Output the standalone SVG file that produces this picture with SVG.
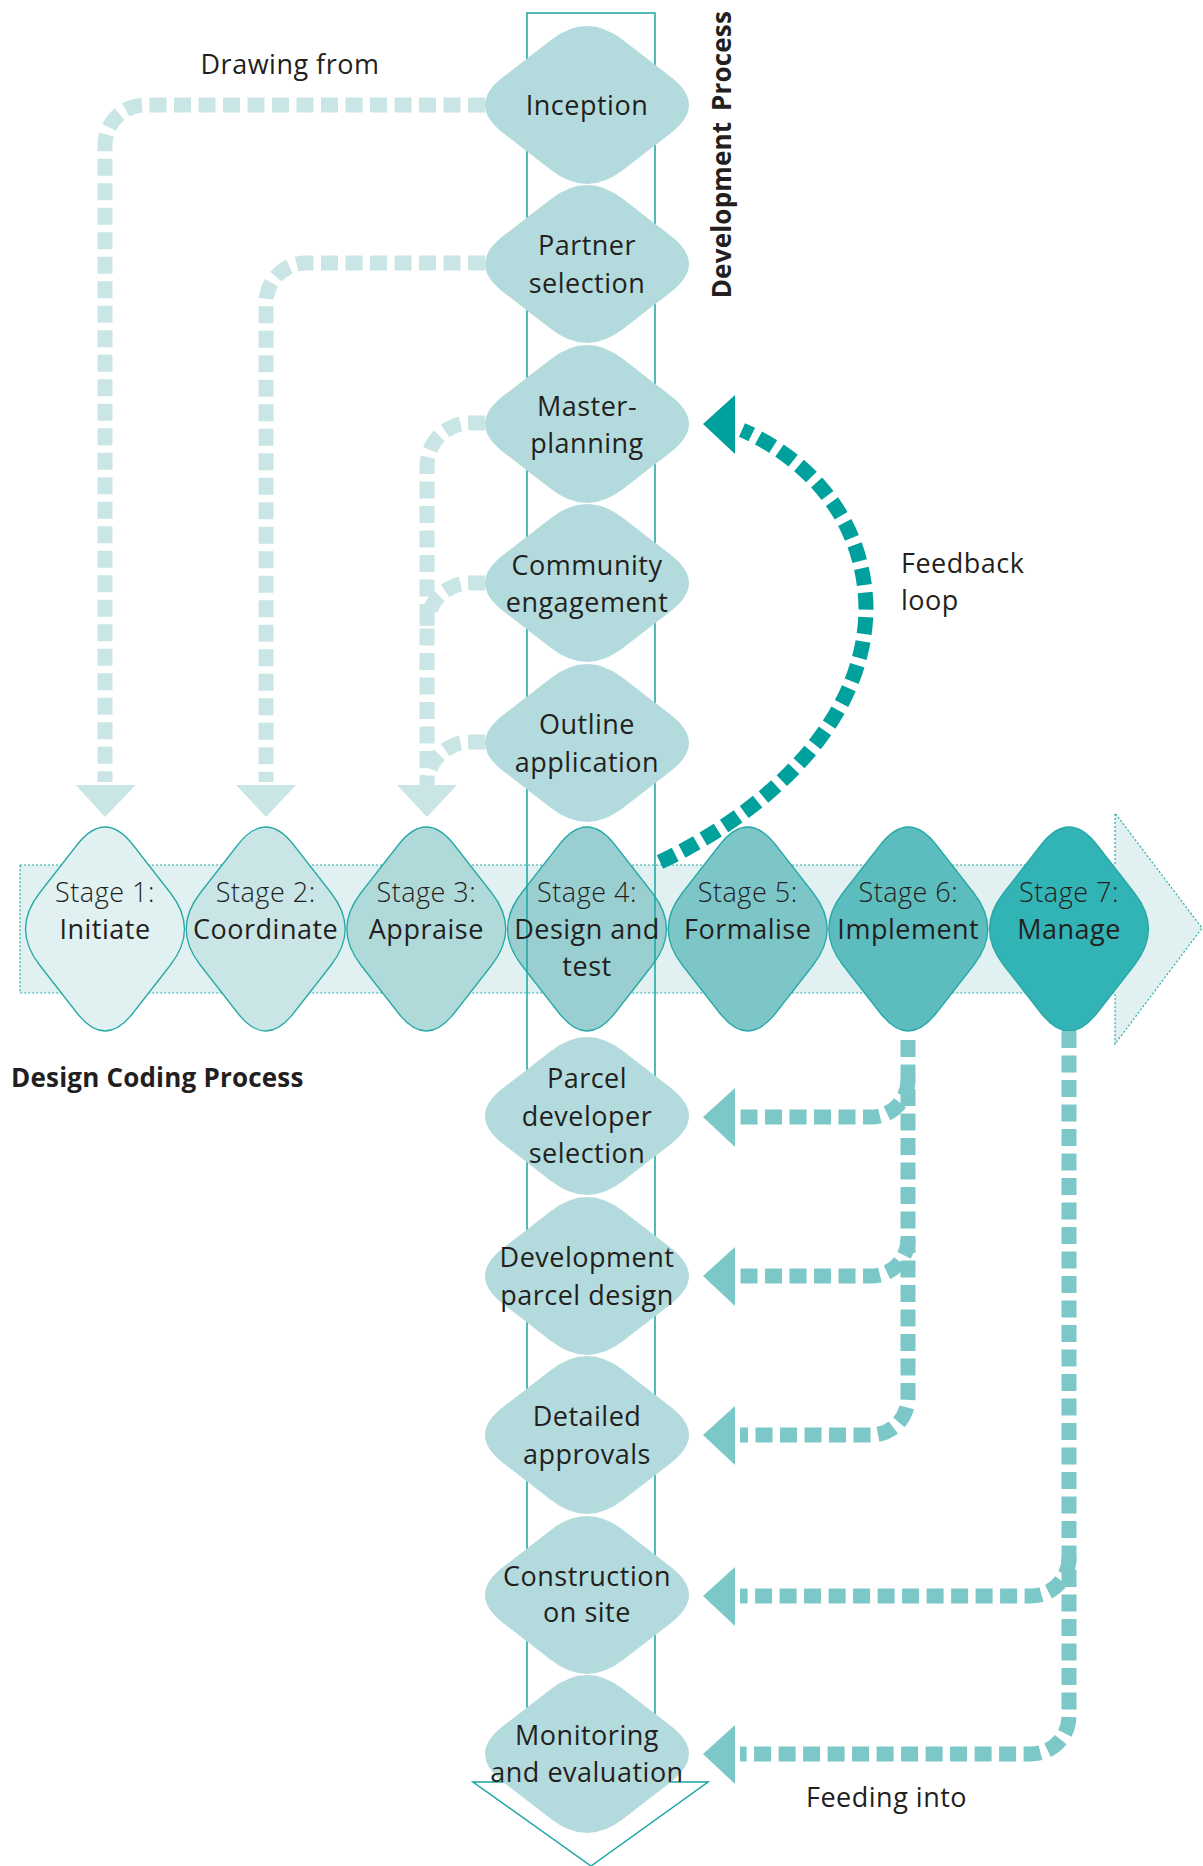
<svg xmlns="http://www.w3.org/2000/svg" xmlns:xlink="http://www.w3.org/1999/xlink" width="1203" height="1866" viewBox="0 0 1203 1866">
<style>
text{font-family:"Open Sans","Noto Sans","Liberation Sans",sans-serif;fill:#231f20;font-size:27px;letter-spacing:0.5px}
.c{text-anchor:middle}
.l{font-weight:300}
.b{font-weight:bold;font-size:26px;letter-spacing:0.2px}
.stage{stroke:#26a9a6;stroke-width:1.3}
.dev{fill:#b3dbdd}
.dash{fill:none;stroke-width:15;stroke-dasharray:17 7.5}
.light{stroke:#c9e5e6}
.mid{stroke:#7cc7c8}
.dark{stroke:#00a19c}
</style>
<defs>
<path id="devShape" d="M36,-65.1 L84,-27.9 Q120,0 84,27.9 L36,65.1 Q0,93 -36,65.1 L-84,27.9 Q-120,0 -84,-27.9 L-36,-65.1 Q0,-93 36,-65.1 Z"/>
<path id="stageShape" d="M28.05,-84 L65.45,-36 Q93.5,0 65.45,36 L28.05,84 Q0,120 -28.05,84 L-65.45,36 Q-93.5,0 -65.45,-36 L-28.05,-84 Q0,-120 28.05,-84 Z"/>
</defs>

<!-- band arrow -->
<path id="band" d="M20,865 H1115 V813 L1202,928 L1115,1044 V993 H20 Z" fill="#e1f0f0" stroke="#2aa9a7" stroke-width="1.2" stroke-dasharray="2 2"/>

<!-- stage nodes -->
<g id="stage1" transform="translate(105,929)"><use href="#stageShape" class="stage" fill="#e1f0f0"/></g>
<g id="stage2" transform="translate(265.7,929)"><use href="#stageShape" class="stage" fill="#c9e5e6"/></g>
<g id="stage3" transform="translate(426.3,929)"><use href="#stageShape" class="stage" fill="#b0dada"/></g>
<g id="stage4" transform="translate(587,929)"><use href="#stageShape" class="stage" fill="#99cfd0"/></g>
<g id="stage5" transform="translate(747.7,929)"><use href="#stageShape" class="stage" fill="#7dc6c8"/></g>
<g id="stage6" transform="translate(908.3,929)"><use href="#stageShape" class="stage" fill="#5dbcbd"/></g>
<g id="stage7" transform="translate(1069,929)"><use href="#stageShape" class="stage" fill="#32b3b5"/></g>

<!-- development process column outline -->
<path id="devColumn" d="M527,13 H655 V1782 H708 L591,1866 L473,1782 H527 Z" fill="none" stroke="#1aa5a2" stroke-width="1.5"/>

<!-- connectors -->
<g id="connectors">
  <path class="dash light" d="M485,105 H145 A40,40 0 0 0 105,145 V782"/>
  <path class="dash light" d="M485,263 H306 A40,40 0 0 0 266,303 V782"/>
  <path class="dash light" d="M485,423 H470 A43,43 0 0 0 427,466 V782"/>
  <path class="dash light" d="M485,583 H470 A43,43 0 0 0 427,626"/>
  <path class="dash light" d="M485,742 H470 A43,43 0 0 0 427,785"/>
  <polygon fill="#c9e5e6" points="75.7,785 135.7,785 105,817"/>
  <polygon fill="#c9e5e6" points="236,785 296,785 266,817"/>
  <polygon fill="#c9e5e6" points="397,785 457,785 427,817"/>

  <path class="dash dark" d="M660,862 C770,810 866,720 866,607 C864,520 810,460 742,430"/>
  <polygon fill="#00a19c" points="703,424 735,395 735,454"/>

  <path class="dash mid" d="M908,1040 V1398 A37,37 0 0 1 871,1435 H740"/>
  <path class="dash mid" d="M908,1080 A37,37 0 0 1 871,1117 H740"/>
  <path class="dash mid" d="M908,1239 A37,37 0 0 1 871,1276 H740"/>
  <path class="dash mid" d="M1069,1031 V1716 A38,38 0 0 1 1031,1754 H740"/>
  <path class="dash mid" d="M1069,1558 A38,38 0 0 1 1031,1596 H740"/>
  <polygon fill="#7cc7c8" points="703,1117 735,1088 735,1147"/>
  <polygon fill="#7cc7c8" points="703,1276 735,1247 735,1306"/>
  <polygon fill="#7cc7c8" points="703,1435 735,1406 735,1465"/>
  <polygon fill="#7cc7c8" points="703,1596 735,1567 735,1626"/>
  <polygon fill="#7cc7c8" points="703,1754 735,1725 735,1784"/>
</g>

<!-- stage labels -->
<g id="stage-labels">
  <text class="c l" x="105" y="902">Stage 1:</text><text class="c" x="105" y="939">Initiate</text>
  <text class="c l" x="265.7" y="902">Stage 2:</text><text class="c" x="265.7" y="939">Coordinate</text>
  <text class="c l" x="426.3" y="902">Stage 3:</text><text class="c" x="426.3" y="939">Appraise</text>
  <text class="c l" x="587" y="902">Stage 4:</text><text class="c" x="587" y="939">Design and</text><text class="c" x="587" y="976">test</text>
  <text class="c l" x="747.7" y="902">Stage 5:</text><text class="c" x="747.7" y="939">Formalise</text>
  <text class="c l" x="908.3" y="902">Stage 6:</text><text class="c" x="908.3" y="939">Implement</text>
  <text class="c l" x="1069" y="902">Stage 7:</text><text class="c" x="1069" y="939">Manage</text>
</g>

<!-- development nodes -->
<g id="inception"><use href="#devShape" class="dev" x="587" y="105"/><text class="c" x="587" y="115">Inception</text></g>
<g id="partner-selection"><use href="#devShape" class="dev" x="587" y="264"/><text class="c" x="587" y="255">Partner</text><text class="c" x="587" y="293">selection</text></g>
<g id="masterplanning"><use href="#devShape" class="dev" x="587" y="424"/><text class="c" x="587" y="416">Master-</text><text class="c" x="587" y="453">planning</text></g>
<g id="community-engagement"><use href="#devShape" class="dev" x="587" y="583"/><text class="c" x="587" y="575">Community</text><text class="c" x="587" y="612">engagement</text></g>
<g id="outline-application"><use href="#devShape" class="dev" x="587" y="743"/><text class="c" x="587" y="734">Outline</text><text class="c" x="587" y="772">application</text></g>
<g id="parcel-developer-selection"><use href="#devShape" class="dev" x="587" y="1116"/><text class="c" x="587" y="1088">Parcel</text><text class="c" x="587" y="1126">developer</text><text class="c" x="587" y="1163">selection</text></g>
<g id="development-parcel-design"><use href="#devShape" class="dev" x="587" y="1276"/><text class="c" x="587" y="1267">Development</text><text class="c" x="587" y="1305">parcel design</text></g>
<g id="detailed-approvals"><use href="#devShape" class="dev" x="587" y="1435"/><text class="c" x="587" y="1426">Detailed</text><text class="c" x="587" y="1464">approvals</text></g>
<g id="construction-on-site"><use href="#devShape" class="dev" x="587" y="1595"/><text class="c" x="587" y="1586">Construction</text><text class="c" x="587" y="1622">on site</text></g>
<g id="monitoring-evaluation"><use href="#devShape" class="dev" x="587" y="1754"/><text class="c" x="587" y="1745">Monitoring</text><text class="c" x="587" y="1782">and evaluation</text></g>

<!-- free labels -->
<text class="c" x="290" y="74">Drawing from</text>
<text x="901" y="573">Feedback</text>
<text x="901" y="610">loop</text>
<text x="806" y="1807">Feeding into</text>
<text class="b" x="11" y="1087">Design Coding Process</text>
<g transform="translate(731,0) rotate(-90)">
  <text class="b c" x="-210" y="0">Development</text>
  <text class="b c" x="-61" y="0">Process</text>
</g>
</svg>
